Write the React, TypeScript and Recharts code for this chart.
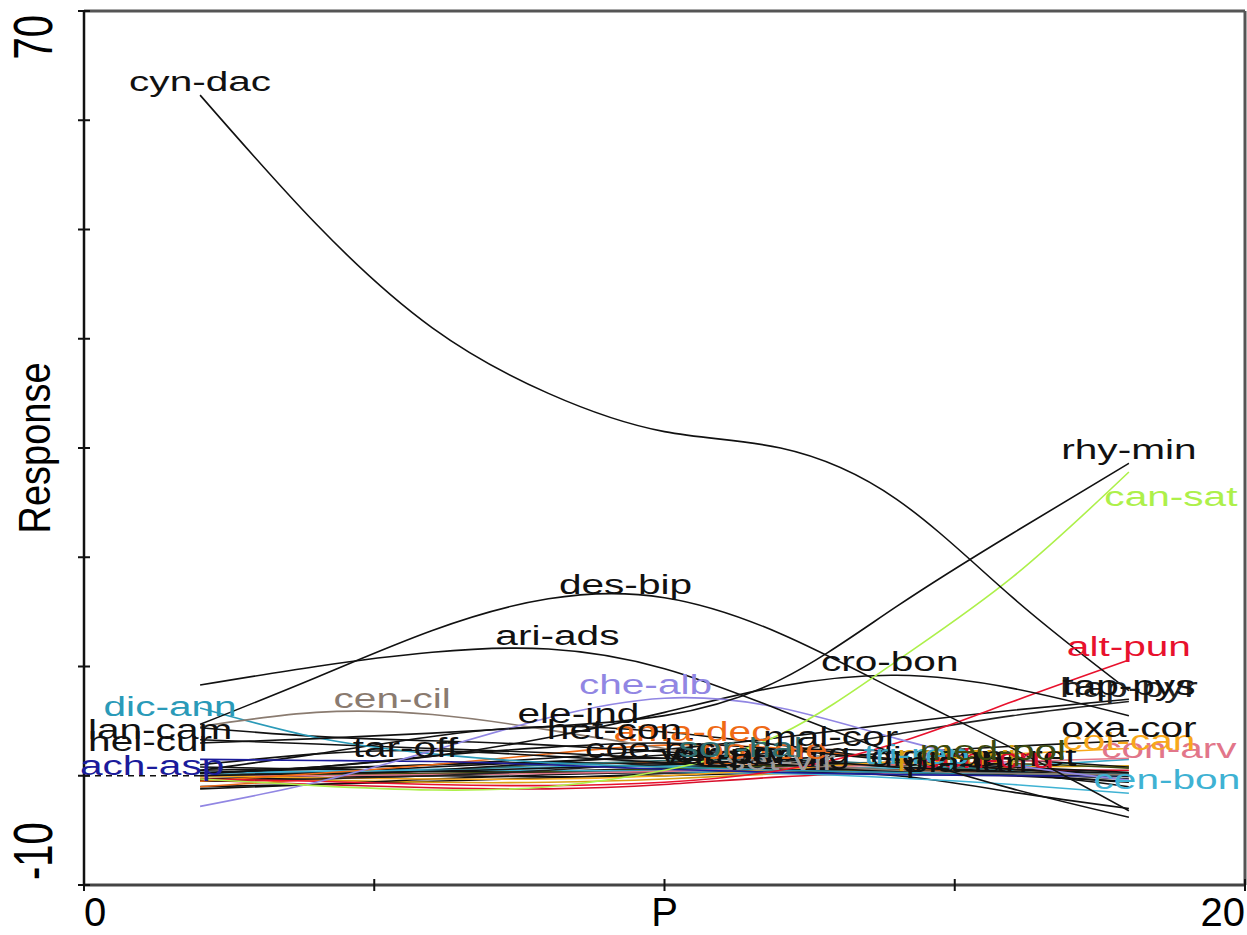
import React from 'react';
import { LineChart, Line, XAxis, YAxis, ReferenceLine } from 'recharts';

const FONT = "'Liberation Sans', Arial, Helvetica, sans-serif";

// gradient positions where the response curves are evaluated
const XS = [2, 4, 6, 8, 10, 12, 14, 16, 18];
const X_TICKS = [0, 5, 10, 15, 20];
const X_TICK_LABELS: Record<string, string> = { '0': '0', '10': 'P', '20': '20' };
const Y_TICKS = [-10, 0, 10, 20, 30, 40, 50, 60, 70];
const Y_TICK_LABELS: Record<string, string> = { '70': '70', '-10': '-10' };

// species response values
const cynDac = [62.3, 50.5, 41.0, 35.0, 31.5, 30.0, 25.3, 16.3, 7.8];
const rhyMin = [3.0, 3.4, 3.9, 4.5, 5.5, 8.8, 15.5, 22.2, 28.6];
const canSat = [-0.3, -0.9, -1.3, -1.0, 0.5, 3.8, 10.5, 18.2, 27.8];
const desBip = [4.7, 9.0, 13.3, 16.2, 16.3, 13.0, 7.8, 2.5, -3.2];
const ariAds = [8.3, 10.0, 11.3, 11.6, 9.8, 6.0, 2.0, -1.2, -3.8];
const cheAlb = [-2.8, -0.6, 2.3, 5.3, 7.1, 6.2, 3.4, 1.0, -0.4];
const croBon = [0.2, 0.8, 1.8, 3.5, 5.8, 8.2, 9.2, 8.0, 5.5];
const altPun = [-0.3, -0.5, -0.8, -0.9, -0.6, 0.5, 3.0, 6.8, 10.6];
const cenCil = [4.5, 5.8, 5.6, 4.2, 2.5, 1.2, 0.5, 0.2, 0.1];
const dicAnn = [6.2, 3.5, 2.0, 1.2, 0.8, 0.5, 0.3, 0.2, 0.1];
const lanCam = [4.4, 3.6, 3.2, 2.8, 2.2, 1.5, 0.8, 0.3, 0.0];
const helCur = [3.3, 2.9, 2.5, 2.1, 1.6, 1.0, 0.5, 0.2, 0.0];
const achAsp = [1.5, 1.4, 1.3, 1.0, 0.6, 0.3, 0.1, 0.0, 0.0];
const tarOff = [1.0, 2.0, 2.3, 1.8, 1.2, 0.6, 0.3, 0.1, 0.0];
const eleInd = [0.5, 2.0, 3.6, 4.5, 4.0, 2.8, 1.5, 0.6, 0.1];
const hetCon = [0.2, 0.8, 1.8, 2.6, 3.0, 2.4, 1.4, 0.6, 0.2];
const amaDec = [-0.5, 0.2, 1.0, 2.0, 2.8, 2.5, 1.5, 0.6, 0.0];
const coeBic = [0.0, 0.3, 0.8, 1.3, 1.6, 1.3, 0.8, 0.4, 0.1];
const sorHal = [0.0, 0.2, 0.5, 1.0, 1.4, 1.5, 1.0, 0.5, 0.1];
const malCor = [-0.3, 0.0, 0.5, 1.2, 1.9, 2.4, 2.2, 1.5, 0.8];
const tapPys = [0.3, 0.6, 1.0, 1.6, 2.4, 3.5, 4.8, 6.0, 7.0];
const hapPyr = [-0.5, -0.3, 0.0, 0.5, 1.2, 2.2, 3.8, 5.5, 6.8];
const oxaCor = [0.0, 0.2, 0.4, 0.7, 1.0, 1.5, 2.1, 2.7, 3.2];
const cotCan = [0.0, -0.2, -0.3, -0.3, 0.0, 0.6, 1.3, 2.0, 2.5];
const conArv = [0.0, 0.0, 0.1, 0.2, 0.4, 0.7, 1.0, 1.3, 1.6];
const cenBon = [0.3, 0.4, 0.5, 0.5, 0.4, 0.2, -0.2, -0.8, -1.6];
const medPol = [0.0, 0.1, 0.2, 0.4, 0.6, 0.9, 1.0, 1.1, 0.7];
const senVul = [-1.0, -0.8, -0.5, -0.2, 0.2, 0.5, 0.6, 0.4, 0.0];
const solNig = [-0.5, -0.3, 0.0, 0.3, 0.6, 0.8, 0.6, 0.2, -0.3];
const amaRet = [0.3, 0.2, 0.0, -0.1, 0.0, 0.3, 0.5, 0.2, -1.0];
const polAvi = [-0.2, -0.4, -0.6, -0.6, -0.3, 0.2, 0.6, 0.8, 0.9];
const echCru = [-0.4, -0.8, -1.1, -1.2, -0.8, -0.1, 0.3, 0.5, 0.5];
const setVir = [0.0, 0.1, 0.2, 0.3, 0.3, 0.2, 0.1, 0.0, -0.1];
const digSan = [0.8, 0.6, 0.4, 0.3, 0.4, 0.6, 0.5, 0.1, -0.6];
const porOle = [-1.0, -0.3, 0.5, 1.0, 1.2, 1.0, 0.6, 0.3, 0.0];
const triRep = [0.2, 0.4, 0.6, 0.8, 0.9, 0.8, 0.7, 0.9, 1.5];
const plaLan = [-1.2, -0.8, -0.3, 0.1, 0.3, 0.3, 0.0, -1.5, -3.0];
const verPer = [-0.4, -0.2, 0.1, 0.4, 0.7, 1.0, 1.2, 0.8, 0.3];
const cirArv = [0.5, 0.7, 1.0, 1.2, 1.1, 0.8, 0.4, 0.0, -0.5];

type Series = { name: string; color: string; values: number[] };

const SERIES: Series[] = [
  { name: 'sen-vul', color: '#111111', values: senVul },
  { name: 'sol-nig', color: '#111111', values: solNig },
  { name: 'ama-ret', color: '#111111', values: amaRet },
  { name: 'pol-avi', color: '#d9a012', values: polAvi },
  { name: 'ech-cru', color: '#d8102c', values: echCru },
  { name: 'set-vir', color: '#9a9a9a', values: setVir },
  { name: 'dig-san', color: '#111111', values: digSan },
  { name: 'por-ole', color: '#e8681a', values: porOle },
  { name: 'tri-rep', color: '#3aa8c8', values: triRep },
  { name: 'pla-lan', color: '#111111', values: plaLan },
  { name: 'ver-per', color: '#111111', values: verPer },
  { name: 'cir-arv', color: '#111111', values: cirArv },
  { name: 'coe-bic', color: '#111111', values: coeBic },
  { name: 'sor-hal', color: '#2e6e70', values: sorHal },
  { name: 'mal-cor', color: '#111111', values: malCor },
  { name: 'med-pol', color: '#3b4a10', values: medPol },
  { name: 'cen-bon', color: '#3fb2d3', values: cenBon },
  { name: 'con-arv', color: '#e2768a', values: conArv },
  { name: 'cot-can', color: '#f7a81b', values: cotCan },
  { name: 'oxa-cor', color: '#111111', values: oxaCor },
  { name: 'hap-pyr', color: '#222222', values: hapPyr },
  { name: 'tap-pys', color: '#111111', values: tapPys },
  { name: 'ama-dec', color: '#ef6a16', values: amaDec },
  { name: 'het-con', color: '#111111', values: hetCon },
  { name: 'ele-ind', color: '#111111', values: eleInd },
  { name: 'tar-off', color: '#111111', values: tarOff },
  { name: 'ach-asp', color: '#1b1b9b', values: achAsp },
  { name: 'hel-cur', color: '#111111', values: helCur },
  { name: 'lan-cam', color: '#111111', values: lanCam },
  { name: 'dic-ann', color: '#2a9ab8', values: dicAnn },
  { name: 'cen-cil', color: '#8a7b70', values: cenCil },
  { name: 'alt-pun', color: '#e8112d', values: altPun },
  { name: 'cro-bon', color: '#111111', values: croBon },
  { name: 'che-alb', color: '#9186e3', values: cheAlb },
  { name: 'ari-ads', color: '#111111', values: ariAds },
  { name: 'des-bip', color: '#111111', values: desBip },
  { name: 'can-sat', color: '#adf04a', values: canSat },
  { name: 'rhy-min', color: '#111111', values: rhyMin },
  { name: 'cyn-dac', color: '#111111', values: cynDac },
];

// label placement: at the curve maximum unless an index / 'last' is given; offsets in px
const LABEL_PLACE: Record<string, { at?: 'last' | number; dx?: number; dy?: number }> = {
  'rhy-min': { at: 'last' },
  'can-sat': { at: 'last', dx: 42, dy: 38 },
  'des-bip': { dx: -39 },
  'ari-ads': { dx: 9 },
  'che-alb': { dx: -19 },
  'cro-bon': { dx: -7 },
  'alt-pun': { at: 'last' },
  'cen-cil': { dx: 76 },
  'dic-ann': { dx: -30, dy: 12 },
  'lan-cam': { dx: -40, dy: 15 },
  'hel-cur': { dx: -50, dy: 15 },
  'ach-asp': { dx: -48, dy: 20 },
  'tar-off': { dx: -27, dy: 10 },
  'ele-ind': { dx: 30 },
  'het-con': { dx: -50 },
  'ama-dec': { dx: 28 },
  'coe-bic': { dx: -14, dy: 4 },
  'sor-hal': { dx: -40, dy: 2 },
  'mal-cor': { dx: 50 },
  'tap-pys': { at: 'last' },
  'hap-pyr': { at: 'last' },
  'oxa-cor': { at: 'last' },
  'cot-can': { at: 'last', dy: 6 },
  'con-arv': { at: 'last', dx: 40, dy: 4 },
  'cen-bon': { at: 'last', dx: 38 },
  'med-pol': { dx: -20 },
  'sen-vul': { at: 5, dx: -20 },
  'sol-nig': { at: 5, dx: 10 },
  'ver-per': { at: 4, dx: 60 },
  'cir-arv': { at: 5, dx: -50 },
  'dig-san': { at: 6, dx: 40 },
  'pla-lan': { at: 6, dx: 70 },
  'ama-ret': { at: 6, dx: 110 },
  'pol-avi': { at: 6, dx: 60 },
  'ech-cru': { at: 6, dx: 90 },
  'set-vir': { at: 5, dx: 0 },
  'por-ole': { at: 4, dx: 100 },
  'tri-rep': { at: 6, dx: 20 },
};

const DATA = XS.map((x, i) => {
  const row: Record<string, number> = { x };
  SERIES.forEach((s) => {
    row[s.name] = s.values[i];
  });
  return row;
});

function labelIndex(s: Series): number {
  const place = LABEL_PLACE[s.name] || {};
  if (place.at === 'last') return s.values.length - 1;
  if (typeof place.at === 'number') return place.at;
  let best = 0;
  s.values.forEach((v, i) => {
    if (v > s.values[best]) best = i;
  });
  return best;
}

const makeDot = (s: Series) => {
  const idx = labelIndex(s);
  const place = LABEL_PLACE[s.name] || {};
  return (props: any) => {
    const { cx, cy, index } = props;
    if (index !== idx || cx == null || cy == null) return <g key={`d-${s.name}-${index}`} />;
    const tx = cx + (place.dx || 0);
    const ty = cy - 4 + (place.dy || 0);
    return (
      <g key={`d-${s.name}-${index}`} transform={`translate(${tx},${ty}) scale(1.45,1)`}>
        <text x={0} y={0} textAnchor="middle" fontSize={28} fontFamily={FONT} fill={s.color}>
          {s.name}
        </text>
      </g>
    );
  };
};

const XTick = (props: any) => {
  const { x, y, payload } = props;
  const v = payload.value;
  const label = X_TICK_LABELS[String(v)] || '';
  const anchor = v === 0 ? 'start' : v === 20 ? 'end' : 'middle';
  return (
    <g>
      <line x1={x} x2={x} y1={y - 6} y2={y + 6} stroke="#111" strokeWidth={2} />
      {label ? (
        <text x={x} y={y + 41} textAnchor={anchor} fontSize={40} fontFamily={FONT} fill="#000">
          {label}
        </text>
      ) : null}
    </g>
  );
};

const YTick = (props: any) => {
  const { x, y, payload } = props;
  const v = payload.value;
  const label = Y_TICK_LABELS[String(v)] || '';
  const top = v === 70;
  return (
    <g>
      <line x1={x - 6} x2={x + 6} y1={y} y2={y} stroke="#111" strokeWidth={2} />
      {label ? (
        <text
          transform={`translate(${x - 32},${top ? y + 4 : y - 5}) rotate(-90) scale(1,1.38)`}
          textAnchor={top ? 'end' : 'start'}
          fontSize={40}
          fontFamily={FONT}
          fill="#000"
        >
          {label}
        </text>
      ) : null}
    </g>
  );
};

const YTitle = (props: any) => {
  const vb = props.viewBox || {};
  const cy = (vb.y ?? 11) + (vb.height ?? 874) / 2;
  return (
    <text
      transform={`translate(50,${cy}) rotate(-90) scale(1,1.15)`}
      textAnchor="middle"
      fontSize={38}
      fontFamily={FONT}
      fill="#000"
    >
      Response
    </text>
  );
};

export default function App() {
  return (
    <div style={{ position: 'absolute', left: 0, top: 0, width: 1247, height: 935, background: '#fff' }}>
      <LineChart
        width={1247}
        height={935}
        data={DATA}
        margin={{ top: 11, right: 2, left: 0, bottom: 0 }}
      >
        <XAxis
          type="number"
          dataKey="x"
          domain={[0, 20]}
          ticks={X_TICKS}
          interval={0}
          height={50}
          tickSize={0}
          tickMargin={0}
          tickLine={false}
          axisLine={{ stroke: '#444', strokeWidth: 3 }}
          tick={<XTick />}
        />
        <YAxis
          type="number"
          domain={[-10, 70]}
          ticks={Y_TICKS}
          interval={0}
          width={84}
          tickSize={0}
          tickMargin={0}
          tickLine={false}
          axisLine={{ stroke: '#111', strokeWidth: 2.5 }}
          tick={<YTick />}
          label={<YTitle />}
        />
        <ReferenceLine y={70} stroke="#555" strokeWidth={3} />
        <ReferenceLine x={20} stroke="#555" strokeWidth={3} />
        <ReferenceLine
          segment={[
            { x: 0, y: 0 },
            { x: 2, y: 0 },
          ]}
          stroke="#111"
          strokeWidth={1.5}
          strokeDasharray="6 5"
        />
        {SERIES.map((s) => (
          <Line
            key={s.name}
            type="natural"
            dataKey={s.name}
            stroke={s.color}
            strokeWidth={1.6}
            dot={makeDot(s)}
            activeDot={false}
            isAnimationActive={false}
          />
        ))}
      </LineChart>
    </div>
  );
}
